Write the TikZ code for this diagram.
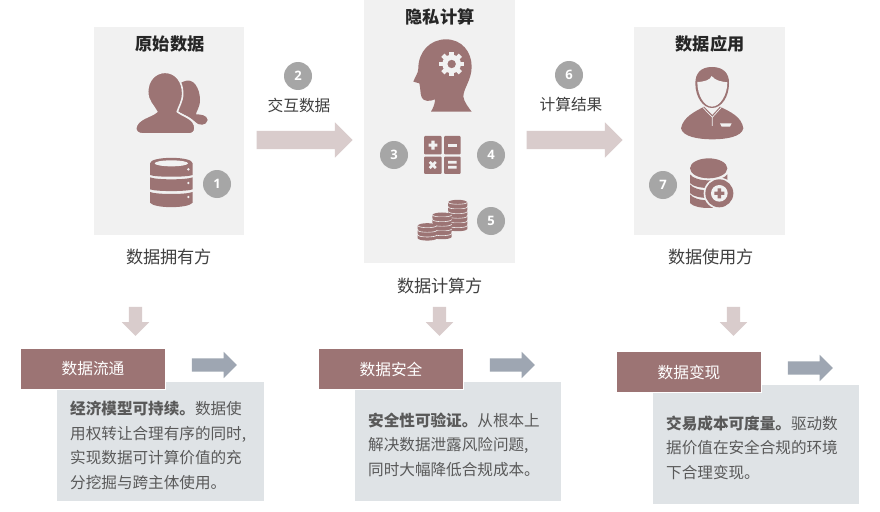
\documentclass[tikz,border=0pt]{standalone}
\usepackage{fontspec}
\setmainfont{Noto Sans CJK SC}
\newfontfamily\numfont{Open Sans}
\usetikzlibrary{shapes.arrows}
\definecolor{panelgrey}{HTML}{F1F1F1}
\definecolor{iconred}{HTML}{9C7474}
\definecolor{pinkarrow}{HTML}{D9CCCC}
\definecolor{slatearrow}{HTML}{9EA6B2}
\definecolor{notegrey}{HTML}{DFE3E6}
\definecolor{badge}{HTML}{A6A6A6}
\definecolor{bodytext}{HTML}{595959}
\definecolor{labeltext}{HTML}{404040}
\tikzset{
  x=1pt,y=-1pt,
  panel/.style={fill=panelgrey,draw=none},
  paneltitle/.style={font=\bfseries\fontsize{17.2}{20}\selectfont,text=black!85,inner sep=0pt},
  sidelabel/.style={font=\fontsize{17.2}{20}\selectfont,text=labeltext,inner sep=0pt},
  arrowlabel/.style={font=\fontsize{15.7}{18}\selectfont,text=labeltext,inner sep=0pt},
  numbadge/.style={circle,fill=badge,text=white,minimum size=28pt,inner sep=0pt,font=\numfont\bfseries\fontsize{13}{15}\selectfont},
  bigarrow/.style={single arrow,fill=pinkarrow,draw=none,inner sep=9pt,minimum height=96pt,single arrow head extend=8.5pt,single arrow tip angle=90},
  downarrow/.style={single arrow,fill=pinkarrow,draw=none,inner sep=6.5pt,minimum height=29pt,single arrow head extend=7pt,single arrow tip angle=90,shape border rotate=270},
  sidearrow/.style={single arrow,fill=slatearrow,draw=none,inner sep=6.5pt,minimum height=45pt,single arrow head extend=6.5pt,single arrow tip angle=90},
  header/.style={fill=iconred,draw=white,line width=1.5pt,text=white,minimum width=145pt,minimum height=41pt,inner sep=0pt,font=\fontsize{15.7}{18}\selectfont},
  notebox/.style={fill=notegrey,draw=none},
  note/.style={anchor=north west,align=left,inner sep=0pt,text=bodytext,font=\fontsize{15.6}{24.6}\selectfont},
  icon/.style={fill=iconred,draw=none},
  zoomA/.style={shift={(90,20)},scale=1/3},
  zoomB/.style={shift={(370,0)},scale=1/3},
  zoomC/.style={shift={(630,20)},scale=1/3},
}
\begin{document}
\begin{tikzpicture}
\useasboundingbox (0,0) rectangle (880,511);
\fill[white] (0,0) rectangle (880,511);
% panels
\fill[panel] (94,27) rectangle (244,235);
\fill[panel] (364,0) rectangle (515,263);
\fill[panel] (634,27) rectangle (785,235);
\node[paneltitle] (t1) at (170,44) {原始数据};
\node[paneltitle] (t2) at (440,17) {隐私计算};
\node[paneltitle] (t3) at (710,44) {数据应用};
\node[sidelabel] (s1) at (169,257) {数据拥有方};
\node[sidelabel] (s2) at (440,286) {数据计算方};
\node[sidelabel] (s3) at (711,257) {数据使用方};
% people icon
\begin{scope}[zoomA]
  \fill[icon] (250,200) -- (280,185) .. controls (310,170) and (330,205) .. (330,240)
    .. controls (330,262) and (318,275) .. (318,283)
    .. controls (330,283) and (352,285) .. (353,300)
    .. controls (350,318) and (325,318) .. (315,305)
    .. controls (300,290) and (275,280) .. (250,270) -- cycle;
  \filldraw[fill=iconred,draw=panelgrey,line width=1.6pt] (225,157) .. controls (258,157) and (278,185) .. (278,220)
    .. controls (278,245) and (265,262) .. (262,275)
    .. controls (280,290) and (315,295) .. (315,325)
    .. controls (315,338) and (305,342) .. (295,342)
    -- (160,342) .. controls (145,342) and (137,335) .. (137,325)
    .. controls (140,295) and (185,290) .. (200,275)
    .. controls (190,255) and (173,245) .. (173,215)
    .. controls (173,182) and (195,157) .. (225,157) -- cycle;
  % database
  \fill[icon] (180,430) .. controls (180,408) and (308,408) .. (308,430) -- (308,465)
    .. controls (290,472) and (198,472) .. (180,465) -- cycle;
  \fill[panelgrey] (244,430) ellipse [x radius=50,y radius=9];
  \fill[icon] (180,472) .. controls (200,480) and (288,480) .. (308,472) -- (308,508)
    .. controls (290,515) and (198,515) .. (180,508) -- cycle;
  \fill[icon] (180,516) .. controls (200,524) and (288,524) .. (308,516) -- (308,548)
    .. controls (295,566) and (193,566) .. (180,548) -- cycle;
  \fill[panelgrey] (295,448) circle (4) (295,489) circle (4) (295,531) circle (4);
\end{scope}
% head icon
\begin{scope}[zoomB]
  \fill[icon] (228,118) .. controls (275,118) and (305,155) .. (305,200)
    .. controls (305,240) and (280,265) .. (280,290)
    .. controls (282,305) and (295,322) .. (305,335)
    -- (183,335) .. controls (190,322) and (195,312) .. (195,298)
    .. controls (180,305) and (160,305) .. (155,292)
    .. controls (150,280) and (152,265) .. (148,250)
    -- (130,245) .. controls (135,230) and (145,220) .. (145,205)
    .. controls (145,155) and (180,118) .. (228,118) -- cycle;
  \foreach \a in {0,45,...,315}
    \fill[panelgrey,rotate around={\a:(245,192)}] (238,155) rectangle (252,170);
  \fill[panelgrey,even odd rule] (245,192) circle (28) (245,192) circle (13);
  % calculator
  \fill[icon,rounded corners=1pt] (162,408) rectangle (215,463);
  \fill[icon,rounded corners=1pt] (222,408) rectangle (272,463);
  \fill[icon,rounded corners=1pt] (162,470) rectangle (215,522);
  \fill[icon,rounded corners=1pt] (222,470) rectangle (272,522);
  \fill[panelgrey] (176,431) rectangle (202,440) (184,422) rectangle (194,449);
  \fill[panelgrey] (234,431) rectangle (260,440);
  \fill[panelgrey,rotate around={45:(188,495)}] (175,491) rectangle (201,499) (184,482) rectangle (192,508);
  \fill[panelgrey] (234,483) rectangle (260,491) (234,498) rectangle (260,506);
  % coins
  \foreach \cx/\top/\n in {263/600/6,216/638/5,172/670/3}{
    \foreach \i in {1,...,\n}{
      \pgfmathsetmacro{\yy}{\top+(\i-1)*14}
      \fill[icon] (\cx-29,\yy+7) -- (\cx-29,\yy+17) .. controls (\cx-25,\yy+26) and (\cx+25,\yy+26) .. (\cx+29,\yy+17) -- (\cx+29,\yy+7)
        .. controls (\cx+25,\yy-3) and (\cx-25,\yy-3) .. (\cx-29,\yy+7) -- cycle;
      \draw[panelgrey,line width=0.6pt] (\cx-29,\yy+7) .. controls (\cx-25,\yy+15) and (\cx+25,\yy+15) .. (\cx+29,\yy+7);
    }
  }
\end{scope}
% person icon
\begin{scope}[zoomC]
  \fill[icon] (153,325) .. controls (160,290) and (195,275) .. (222,260)
    -- (247,285) -- (270,260) .. controls (300,275) and (335,290) .. (340,325)
    .. controls (335,350) and (290,358) .. (247,358)
    .. controls (205,358) and (158,350) .. (153,325) -- cycle;
  \draw[panelgrey,line width=0.7pt] (218,262) -- (247,292) -- (274,262) (247,292) -- (247,318);
  \fill[panelgrey] (270,310) -- (305,310) -- (300,320) -- (275,320) -- cycle;
  \fill[icon] (246,141) .. controls (280,141) and (298,160) .. (297,190)
    .. controls (297,230) and (275,264) .. (246,264)
    .. controls (218,264) and (196,230) .. (196,190)
    .. controls (196,160) and (212,141) .. (246,141) -- cycle;
  \fill[panelgrey] (202,186) .. controls (225,185) and (240,180) .. (245,168)
    .. controls (255,182) and (275,185) .. (292,187)
    .. controls (292,225) and (270,260) .. (246,260)
    .. controls (222,260) and (202,225) .. (202,186) -- cycle;
  % db plus
  \fill[icon] (236,445) ellipse [x radius=56,y radius=30];
  \foreach \yy in {475,505,535}{
    \fill[icon] (180,\yy-12) .. controls (195,\yy+12) and (277,\yy+12) .. (292,\yy-12) -- (292,\yy+14)
      .. controls (277,\yy+34) and (195,\yy+34) .. (180,\yy+14) -- cycle;
  }
  \fill[panelgrey] (268,520) circle (47);
  \fill[icon] (268,520) circle (42);
  \fill[panelgrey] (268,520) circle (25);
  \fill[icon] (263,505) rectangle (273,535) (253,515) rectangle (283,525);
\end{scope}
% flow arrows
\node[bigarrow] (a1) at (300,140) {};
\node[bigarrow] (a2) at (570,140) {};
\node[arrowlabel] (l1) at (299,105) {交互数据};
\node[arrowlabel] (l2) at (571,105) {计算结果};
% badges
\node[numbadge] (n1) at (217,184) {1};
\node[numbadge] (n2) at (298,76) {2};
\node[numbadge] (n3) at (394,155) {3};
\node[numbadge] (n4) at (491,155) {4};
\node[numbadge] (n5) at (491,221) {5};
\node[numbadge] (n6) at (569,75) {6};
\node[numbadge] (n7) at (663,185) {7};
% down arrows
\node[downarrow] (d1) at (135.5,318) {};
\node[downarrow] (d2) at (439.5,318) {};
\node[downarrow] (d3) at (733.5,318) {};
% note boxes
\fill[notebox] (57,382) rectangle (264,501);
\fill[notebox] (355,382) rectangle (561,501);
\fill[notebox] (653,385) rectangle (859,504);
\node[header] (h1) at (93,369) {数据流通};
\node[header] (h2) at (391,369) {数据安全};
\node[header] (h3) at (689,372) {数据变现};
\node[sidearrow] (e1) at (211,365) {};
\node[sidearrow] (e2) at (509,365) {};
\node[sidearrow] (e3) at (807,368) {};
\node[note] (b1) at (70,401) {\textbf{经济模型可持续。}数据使\\用权转让合理有序的同时,\\实现数据可计算价值的充\\分挖掘与跨主体使用。};
\node[note] (b2) at (368,412.5) {\textbf{安全性可验证。}从根本上\\解决数据泄露风险问题,\\同时大幅降低合规成本。};
\node[note] (b3) at (666,415.5) {\textbf{交易成本可度量。}驱动数\\据价值在安全合规的环境\\下合理变现。};
\end{tikzpicture}
\end{document}
